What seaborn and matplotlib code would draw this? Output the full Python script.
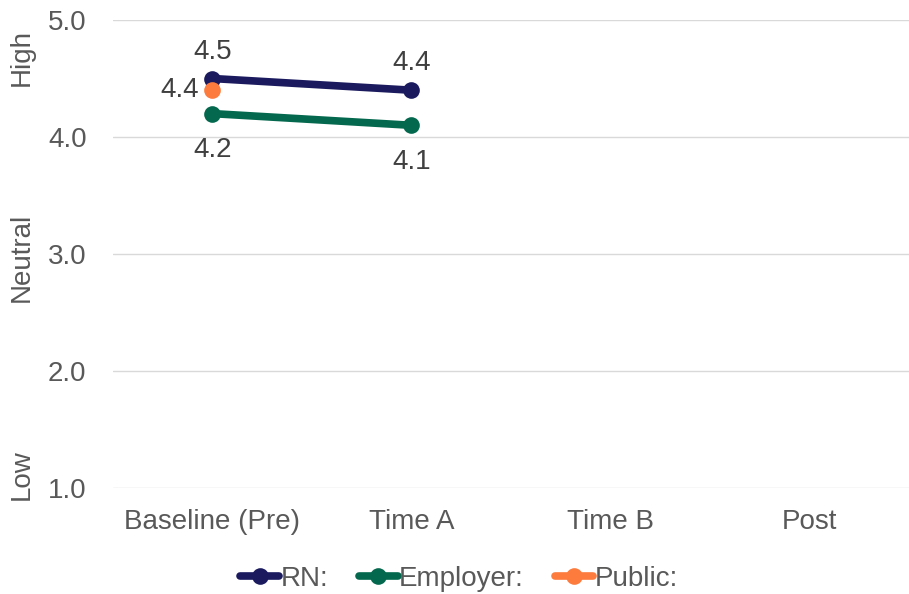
import matplotlib
matplotlib.use("Agg")
import matplotlib.pyplot as plt
import seaborn as sns
import pandas as pd

categories = ["Baseline (Pre)", "Time A", "Time B", "Post"]
rn_values = [4.5, 4.4]
employer_values = [4.2, 4.1]
public_values = [4.4]
series_names = ["RN:", "Employer:", "Public:"]
y_ticks = [1.0, 2.0, 3.0, 4.0, 5.0]
scale_labels = ["High", "Neutral", "Low"]

colors = {"RN:": "#1b1a5f", "Employer:": "#03684d", "Public:": "#fd7b3c"}
text_color = "#595959"
fs = 20

rows = []
for name, vals in zip(series_names, [rn_values, employer_values, public_values]):
    for i, v in enumerate(vals):
        rows.append({"pos": i, "value": v, "series": name})
df = pd.DataFrame(rows)

sns.set_theme(style="white")
plt.rcParams["font.family"] = ["Liberation Sans", "DejaVu Sans"]

fig = plt.figure(figsize=(9.09, 5.94), dpi=100)
ax = fig.add_axes([0.1243, 0.1785, 0.8757, 0.7878])

sns.lineplot(data=df, x="pos", y="value", hue="series", palette=colors,
             hue_order=series_names, marker="o", markersize=12,
             markeredgewidth=0, linewidth=5.5, ax=ax, legend=True,
             solid_capstyle="round")

ax.set_xlim(-0.5, 3.5)
ax.set_ylim(1.0, 5.0)
ax.set_yticks(y_ticks)
ax.set_yticklabels([f"{t:.1f}" for t in y_ticks])
ax.set_xticks(range(len(categories)))
ax.set_xticklabels(categories)
ax.tick_params(axis="both", labelsize=fs, colors=text_color, length=0)
ax.tick_params(axis="y", pad=19)
ax.tick_params(axis="x", pad=15)
ax.set_xlabel("")
ax.set_ylabel("")
ax.grid(axis="y", color="#d9d9d9", linewidth=1)
ax.set_axisbelow(True)
for s in ax.spines.values():
    s.set_visible(False)

# value labels
for i, v in enumerate(rn_values):
    ax.annotate(f"{v:.1f}", (i, v), xytext=(0, 10), textcoords="offset points",
                ha="center", va="bottom", fontsize=fs, color="#404040")
for i, v in enumerate(employer_values):
    ax.annotate(f"{v:.1f}", (i, v), xytext=(0, -17), textcoords="offset points",
                ha="center", va="top", fontsize=fs, color="#404040")
for i, v in enumerate(public_values):
    ax.annotate(f"{v:.1f}", (i, v), xytext=(-10, 0), textcoords="offset points",
                ha="right", va="center", fontsize=fs, color="#404040")

# scale descriptors on the left
for label, ypix in zip(scale_labels, [57, 257, 475]):
    fig.text(22 / 909, 1 - ypix / 594, label, rotation=90, ha="center",
             va="center", fontsize=fs, color=text_color)

handles, labels = ax.get_legend_handles_labels()
for h in handles:
    h.set_solid_capstyle("round")
ax.legend(handles, labels, loc="lower center", bbox_to_anchor=(0.435, -0.245),
          ncol=3, frameon=False, fontsize=fs, labelcolor=text_color,
          handlelength=1.4, handletextpad=0.05, columnspacing=1.1,
          borderaxespad=0)

fig.savefig("out.png", dpi=100)
